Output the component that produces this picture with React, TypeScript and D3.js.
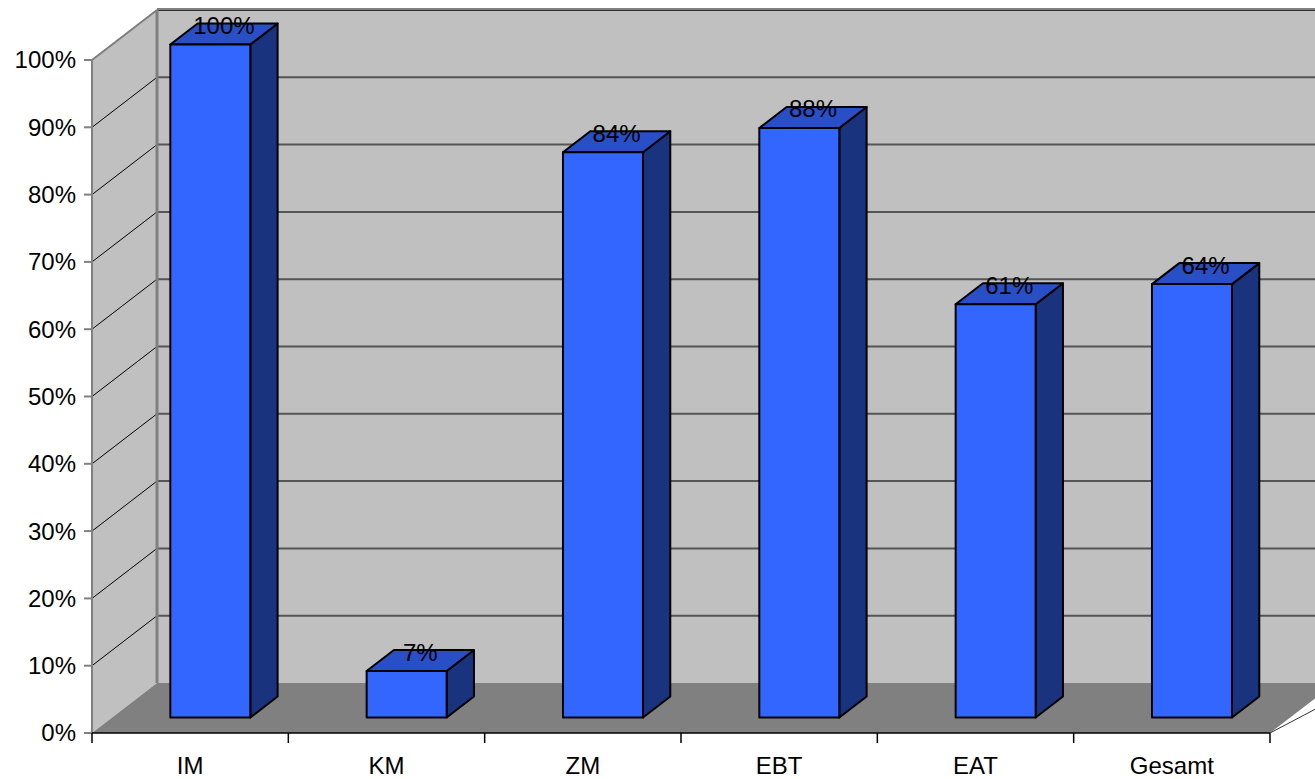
import React from "react";
import * as d3 from "d3";

const categories = ["IM", "KM", "ZM", "EBT", "EAT", "Gesamt"];
const values = [100, 6.9, 84, 87.6, 61.4, 64.4];
const yTicks = [0, 10, 20, 30, 40, 50, 60, 70, 80, 90, 100];

const W = 1315;
const H = 779;
const X0 = 92;
const X1 = 1270;
const DX = 65;
const DY = -50;
const Z0 = 0.31;
const Z1 = 0.73;
const FONT = "'Liberation Sans', Arial, sans-serif";
const FS = 24;

export default function App() {
  const y = d3.scaleLinear().domain([0, 100]).range([733, 60]);
  const x = d3.scaleBand().domain(categories).range([X0, X1]).paddingInner(0).paddingOuter(0);
  const bw = 80;
  const P = (px: number, v: number, z: number): [number, number] => [px + z * DX, y(v) + z * DY];
  const poly = (pts: [number, number][]) => pts.map((p) => p.join(",")).join(" ");

  const floor = poly([P(X0, 0, 0), P(X1, 0, 0), P(X1, 0, 1), [W + 50, y(0) + DY], P(X0, 0, 1)]);
  const leftWall = poly([P(X0, 0, 0), P(X0, 100, 0), P(X0, 100, 1), P(X0, 0, 1)]);
  const backWall = poly([P(X0, 0, 1), P(X0, 100, 1), [W + 10, y(100) + DY], [W + 10, y(0) + DY]]);

  return (
    <svg width={W} height={H} style={{ position: "absolute", left: 0, top: 0, background: "#fff" }}>
      <rect x={0} y={0} width={W} height={H} fill="#fff" />
      <polygon points={backWall} fill="#c0c0c0" />
      <polygon points={leftWall} fill="#c0c0c0" />
      {yTicks.map((t) => {
        const a = P(X0, t, 0);
        const b = P(X0, t, 1);
        return (
          <g key={"g" + t}>
            {t > 0 && <line x1={a[0]} y1={a[1]} x2={b[0]} y2={b[1]} stroke="#000" strokeWidth={1} />}
            {t > 0 && <line x1={b[0]} y1={b[1]} x2={W + 10} y2={b[1]} stroke={t === 100 ? "#000" : "#555"} strokeWidth={t === 100 ? 1.5 : 2} />}
          </g>
        );
      })}
      <line x1={P(X0, 100, 1)[0]} y1={P(X0, 100, 1)[1] - 1} x2={W + 10} y2={P(X0, 100, 1)[1] - 1} stroke="#808080" strokeWidth={2} />
      <line x1={P(X0, 0, 1)[0]} y1={P(X0, 0, 1)[1]} x2={P(X0, 100, 1)[0]} y2={P(X0, 100, 1)[1]} stroke="#808080" strokeWidth={3} />
      <line x1={P(X0, 100, 0)[0]} y1={P(X0, 100, 0)[1]} x2={P(X0, 100, 1)[0]} y2={P(X0, 100, 1)[1]} stroke="#808080" strokeWidth={2} />
      <polygon points={floor} fill="#808080" />
      <line x1={P(X1, 0, 0)[0]} y1={P(X1, 0, 0)[1]} x2={W + 50} y2={y(0) + DY} stroke="#333" strokeWidth={1} />
      <line x1={X0} y1={y(0)} x2={X0} y2={y(100)} stroke="#808080" strokeWidth={2} />
      {yTicks.map((t) => (
        <g key={"t" + t}>
          <line x1={X0 - 8} y1={y(t)} x2={X0} y2={y(t)} stroke="#808080" strokeWidth={2} />
          <text x={76} y={y(t)} dy="0.35em" textAnchor="end" fontFamily={FONT} fontSize={FS} fill="#000">
            {t}%
          </text>
        </g>
      ))}
      <line x1={X0} y1={y(0)} x2={X1} y2={y(0)} stroke="#000" strokeWidth={1.5} />
      {d3.range(categories.length + 1).map((i) => {
        const px = X0 + i * x.bandwidth();
        return <line key={"bt" + i} x1={px} y1={y(0)} x2={px} y2={y(0) + 10} stroke="#000" strokeWidth={1.5} />;
      })}
      {categories.map((c) => (
        <text key={"c" + c} x={(x(c) as number) + x.bandwidth() / 2} y={774} textAnchor="middle" fontFamily={FONT} fontSize={FS} fill="#000">
          {c}
        </text>
      ))}
      {categories.map((c, i) => {
        const v = values[i];
        const cx = (x(c) as number) + x.bandwidth() / 2;
        const l = cx - bw / 2;
        const r = cx + bw / 2;
        const front = poly([P(l, 0, Z0), P(r, 0, Z0), P(r, v, Z0), P(l, v, Z0)]);
        const top = poly([P(l, v, Z0), P(r, v, Z0), P(r, v, Z1), P(l, v, Z1)]);
        const side = poly([P(r, 0, Z0), P(r, 0, Z1), P(r, v, Z1), P(r, v, Z0)]);
        const zm = (Z0 + Z1) / 2;
        const lp = P(cx, v, zm);
        return (
          <g key={"b" + c}>
            <polygon points={side} fill="#1a337f" stroke="#000" strokeWidth={2} strokeLinejoin="round" />
            <polygon points={top} fill="#284fc6" stroke="#000" strokeWidth={2} strokeLinejoin="round" />
            <polygon points={front} fill="#3366ff" stroke="#000" strokeWidth={2} strokeLinejoin="round" />
            <text x={lp[0]} y={lp[1]} textAnchor="middle" fontFamily={FONT} fontSize={FS} fill="#000">
              {Math.round(v)}%
            </text>
          </g>
        );
      })}
    </svg>
  );
}
